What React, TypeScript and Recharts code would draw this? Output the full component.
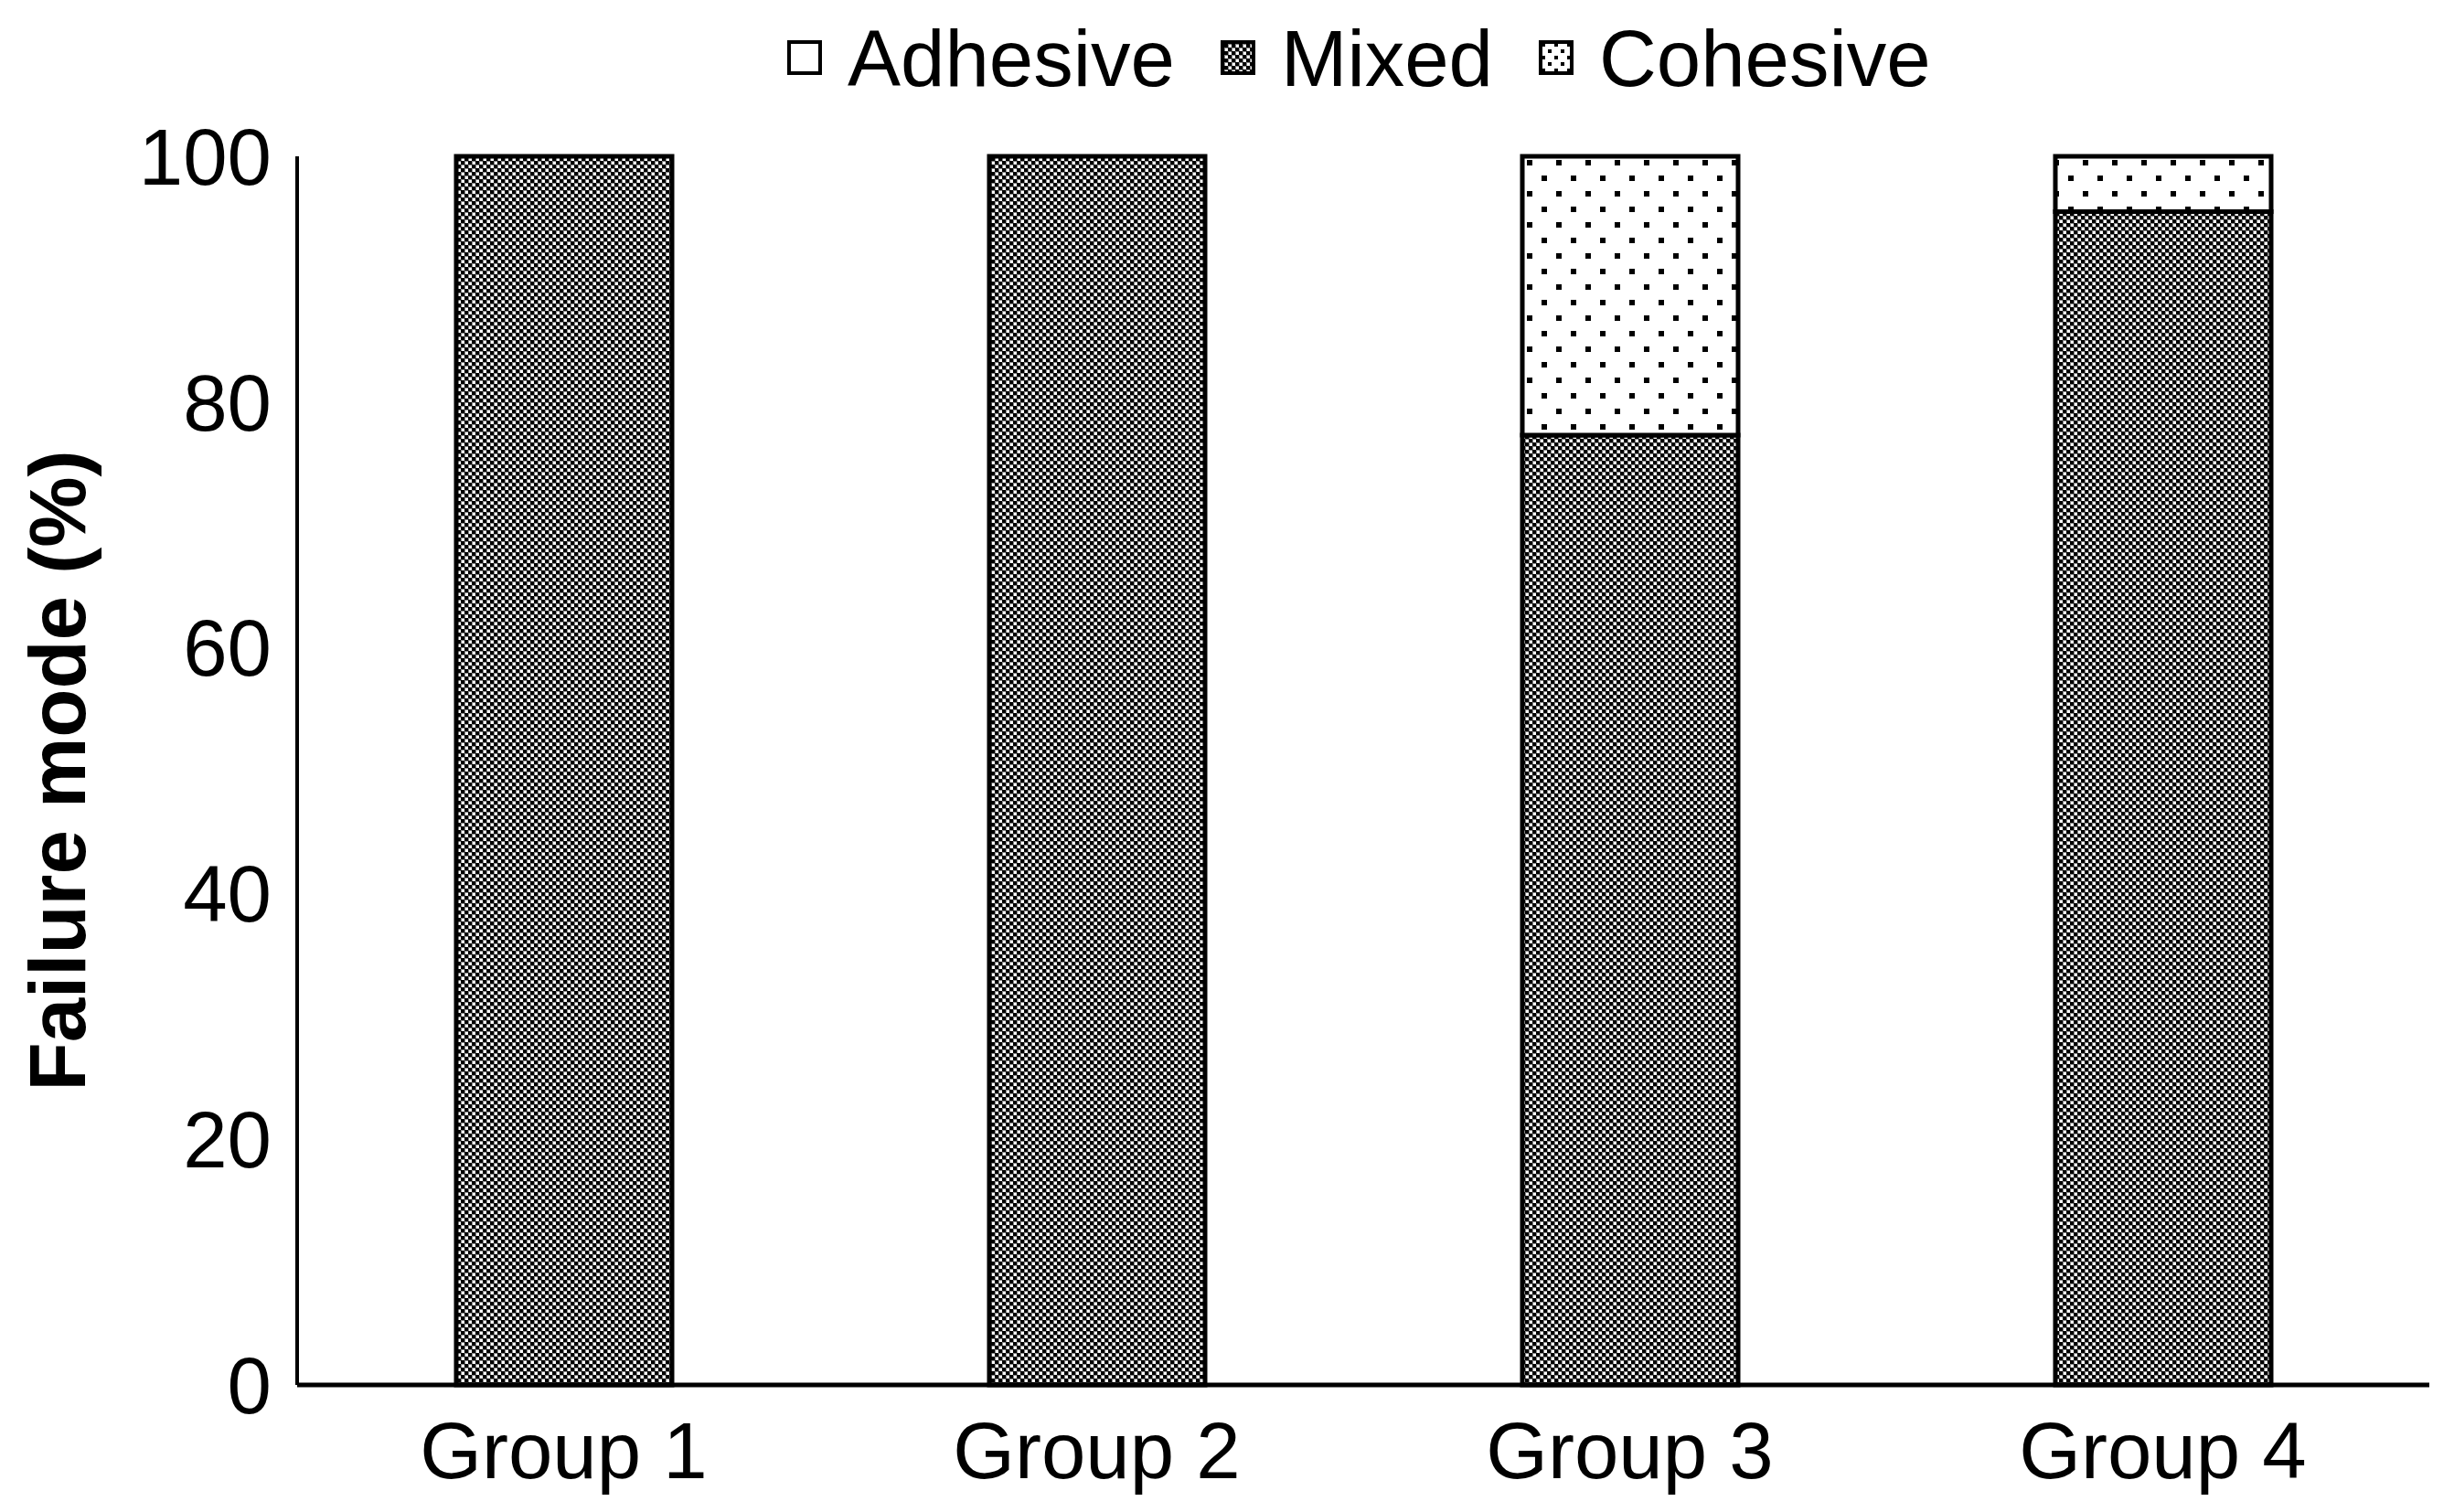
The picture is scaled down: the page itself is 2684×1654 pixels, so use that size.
import { BarChart, Bar, XAxis, YAxis, Legend, Label } from 'recharts';

const groups = ['Group 1', 'Group 2', 'Group 3', 'Group 4'];
const adhesive = [0, 0, 0, 0];
const mixed = [100, 100, 77.3, 95.5];
const cohesive = [0, 0, 22.7, 4.5];
const yTicks = [0, 20, 40, 60, 80, 100];
const legendOrder = ['Adhesive', 'Mixed', 'Cohesive'];

const FONT = '"Liberation Sans", Arial, sans-serif';
const FONT_SIZE = 87;

const data = groups.map((g, i) => ({
  name: g,
  Adhesive: adhesive[i],
  Mixed: mixed[i],
  Cohesive: cohesive[i],
}));

const FILLS: Record<string, string> = {
  Adhesive: '#ffffff',
  Mixed: 'url(#mixedPat)',
  Cohesive: 'url(#dotPat)',
};

const LEGEND_FILLS: Record<string, string> = {
  Adhesive: '#ffffff',
  Mixed: 'url(#mixedPat)',
  Cohesive: 'url(#dotPatSmall)',
};

function renderLegend(props: any) {
  const items = [...(props.payload || [])].sort(
    (a: any, b: any) => legendOrder.indexOf(a.value) - legendOrder.indexOf(b.value)
  );
  return (
    <div
      style={{
        display: 'flex',
        alignItems: 'center',
        height: 126,
        paddingLeft: 861,
        fontFamily: FONT,
        fontSize: FONT_SIZE,
        color: '#000',
      }}
    >
      {items.map((it: any) => (
        <div key={it.value} style={{ display: 'flex', alignItems: 'center', marginRight: 50 }}>
          <svg width={38} height={38} style={{ marginRight: 28 }}>
            <rect x={2} y={2} width={34} height={34} fill={LEGEND_FILLS[it.value]} stroke="#000" strokeWidth={4} />
          </svg>
          <span style={{ lineHeight: 1 }}>{it.value}</span>
        </div>
      ))}
    </div>
  );
}

function renderYLabel(props: any) {
  const vb = props.viewBox || { x: 0, y: 0, width: 0, height: 0 };
  const cy = vb.y + vb.height / 2;
  return (
    <text
      transform={`translate(93, ${cy}) rotate(-90)`}
      textAnchor="middle"
      fontFamily={FONT}
      fontSize={FONT_SIZE}
      fontWeight="bold"
      fill="#000"
    >
      Failure mode (%)
    </text>
  );
}

export default function App() {
  return (
    <div style={{ position: 'absolute', left: 0, top: 0, background: '#fff', fontFamily: FONT }}>
      <BarChart
        width={2684}
        height={1654}
        data={data}
        margin={{ top: 171, right: 27, bottom: 0, left: 0 }}
        barCategoryGap={0}
      >
        <defs>
          {/* checkerboard for Mixed */}
          <pattern id="mixedPat" patternUnits="userSpaceOnUse" width={8} height={8}>
            <rect width={8} height={8} fill="#888" />
            <rect x={0} y={0} width={4} height={4} fill="#000" />
            <rect x={4} y={4} width={4} height={4} fill="#000" />
            <rect x={5} y={1} width={3} height={3} fill="#fff" />
            <rect x={1} y={5} width={3} height={3} fill="#fff" />
          </pattern>
          {/* staggered dots for Cohesive */}
          <pattern id="dotPat" patternUnits="userSpaceOnUse" width={32} height={34}>
            <rect width={32} height={34} fill="#fff" />
            <rect x={6} y={5} width={6} height={6} fill="#000" />
            <rect x={22} y={22} width={6} height={6} fill="#000" />
          </pattern>
          <pattern id="dotPatSmall" patternUnits="userSpaceOnUse" width={14} height={14}>
            <rect width={14} height={14} fill="#fff" />
            <rect x={3} y={3} width={4} height={4} fill="#000" />
            <rect x={10} y={10} width={4} height={4} fill="#000" />
          </pattern>
        </defs>
        <XAxis
          dataKey="name"
          height={139}
          axisLine={{ stroke: '#000', strokeWidth: 5 }}
          tickLine={false}
          tickSize={0}
          tickMargin={40}
          tick={{ fill: '#000', fontSize: FONT_SIZE, fontFamily: FONT }}
        />
        <YAxis
          type="number"
          domain={[0, 100]}
          ticks={yTicks}
          width={325}
          axisLine={{ stroke: '#000', strokeWidth: 4 }}
          tickLine={false}
          tickSize={0}
          tickMargin={28}
          tick={{ fill: '#000', fontSize: FONT_SIZE, fontFamily: FONT }}
        >
          <Label content={renderYLabel} />
        </YAxis>
        <Legend
          layout="vertical"
          align="center"
          verticalAlign="middle"
          wrapperStyle={{ top: 0, left: 0, width: 2684, height: 126 }}
          content={renderLegend}
        />
        <Bar dataKey="Adhesive" stackId="a" barSize={236} fill={FILLS.Adhesive} stroke="#000" strokeWidth={5} isAnimationActive={false} />
        <Bar dataKey="Mixed" stackId="a" barSize={236} fill={FILLS.Mixed} stroke="#000" strokeWidth={5} isAnimationActive={false} />
        <Bar dataKey="Cohesive" stackId="a" barSize={236} fill={FILLS.Cohesive} stroke="#000" strokeWidth={5} isAnimationActive={false} />
      </BarChart>
    </div>
  );
}
